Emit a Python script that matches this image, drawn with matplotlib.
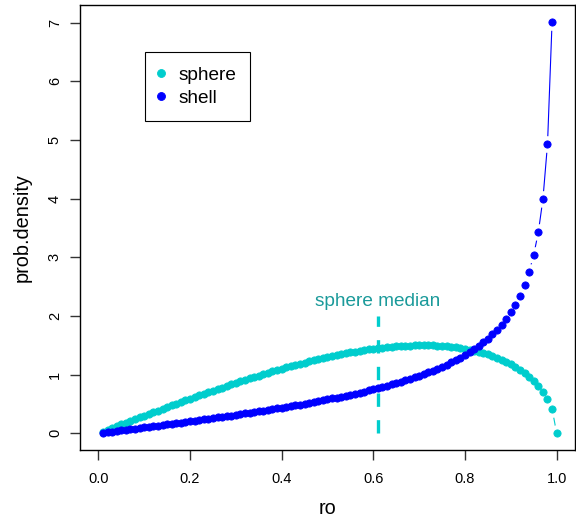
import matplotlib
matplotlib.use("Agg")
import matplotlib.pyplot as plt

plt.rcParams["font.family"] = ["Liberation Sans", "DejaVu Sans"]

ro = [i / 100 for i in range(1, 101)]

sphere = [
    0.030, 0.060, 0.090, 0.120, 0.150, 0.180, 0.209, 0.239, 0.269, 0.298,
    0.328, 0.357, 0.387, 0.416, 0.445, 0.474, 0.503, 0.531, 0.560, 0.588,
    0.616, 0.644, 0.672, 0.699, 0.726, 0.753, 0.780, 0.806, 0.833, 0.859,
    0.884, 0.910, 0.935, 0.959, 0.984, 1.008, 1.031, 1.054, 1.077, 1.100,
    1.122, 1.143, 1.165, 1.185, 1.206, 1.225, 1.245, 1.263, 1.281, 1.299,
    1.316, 1.333, 1.348, 1.364, 1.378, 1.392, 1.405, 1.417, 1.429, 1.440,
    1.450, 1.459, 1.468, 1.475, 1.482, 1.488, 1.492, 1.496, 1.498, 1.500,
    1.500, 1.499, 1.497, 1.493, 1.488, 1.482, 1.474, 1.464, 1.453, 1.440,
    1.425, 1.408, 1.389, 1.367, 1.343, 1.317, 1.287, 1.254, 1.217, 1.177,
    1.132, 1.082, 1.026, 0.962, 0.890, 0.806, 0.707, 0.585, 0.419, 0.000,
]

shell = [
    0.010, 0.020, 0.030, 0.040, 0.050, 0.060, 0.070, 0.080, 0.090, 0.101,
    0.111, 0.121, 0.131, 0.141, 0.152, 0.162, 0.173, 0.183, 0.194, 0.204,
    0.215, 0.226, 0.236, 0.247, 0.258, 0.269, 0.280, 0.292, 0.303, 0.314,
    0.326, 0.338, 0.350, 0.362, 0.374, 0.386, 0.398, 0.411, 0.424, 0.436,
    0.450, 0.463, 0.476, 0.490, 0.504, 0.518, 0.532, 0.547, 0.562, 0.577,
    0.593, 0.609, 0.625, 0.642, 0.659, 0.676, 0.694, 0.712, 0.731, 0.750,
    0.770, 0.790, 0.811, 0.833, 0.855, 0.879, 0.903, 0.927, 0.953, 0.980,
    1.008, 1.038, 1.068, 1.100, 1.134, 1.169, 1.207, 1.246, 1.289, 1.333,
    1.381, 1.433, 1.488, 1.548, 1.614, 1.685, 1.765, 1.853, 1.952, 2.065,
    2.195, 2.347, 2.530, 2.755, 3.042, 3.429, 3.990, 4.925, 7.018,
]

sphere_median = 0.61
median_top = 2.0

SPHERE_COL = "#00CDCD"
SHELL_COL = "#0000FF"
MEDIAN_TEXT_COL = "#1A9A9A"

fig = plt.figure(figsize=(5.76, 5.18), dpi=100)
ax = fig.add_axes([80 / 576, 68 / 518, 495 / 576, 445 / 518])


def draw_series(x, y, color, label):
    # R type="b": thin line broken around each point
    ax.plot(x, y, color=color, linewidth=0.8, zorder=1)
    ax.plot(x, y, linestyle="none", marker="o", markersize=12,
            markerfacecolor="white", markeredgewidth=0, zorder=2)
    return ax.plot(x, y, linestyle="none", marker="o", markersize=5.2,
                   color=color, markeredgewidth=0.6, markeredgecolor=color,
                   zorder=3, label=label)[0]


h1 = draw_series(ro, sphere, SPHERE_COL, "sphere")
h2 = draw_series(ro[:len(shell)], shell, SHELL_COL, "shell")

ax.plot([sphere_median, sphere_median], [0, median_top], color=SPHERE_COL,
        linewidth=2.4, linestyle=(0, (4, 4)), zorder=4)
ax.text(sphere_median, 2.25, "sphere median", color=MEDIAN_TEXT_COL,
        fontsize=13.7, ha="center", va="center")

ax.set_xlim(-0.04, 1.04)
ax.set_ylim(-0.285, 7.30)
ax.set_xticks([0.0, 0.2, 0.4, 0.6, 0.8, 1.0])
ax.set_xticklabels(["0.0", "0.2", "0.4", "0.6", "0.8", "1.0"])
ax.set_yticks(range(0, 8))
ax.tick_params(axis="both", direction="out", length=7, width=1, labelsize=10.5,
               color="#333333")
ax.tick_params(axis="x", pad=9)
ax.tick_params(axis="y", pad=6)
for lab in ax.get_yticklabels():
    lab.set_rotation(90)
    lab.set_va("center")
for sp in ax.spines.values():
    sp.set_linewidth(1.0)
    sp.set_color("black")

ax.set_xlabel("ro", fontsize=14.3, labelpad=9)
ax.set_ylabel("prob.density", fontsize=14.3, labelpad=12)

leg = ax.legend(handles=[h1, h2], loc="upper left",
                bbox_to_anchor=(0.131, 0.894), borderaxespad=0,
                fancybox=False, edgecolor="black", framealpha=1,
                fontsize=13.7, handlelength=0.2, handletextpad=0.8,
                borderpad=0.75, labelspacing=0.3, markerscale=1.1)
leg.get_frame().set_linewidth(0.8)

fig.savefig("out.png", dpi=100, facecolor="white")
